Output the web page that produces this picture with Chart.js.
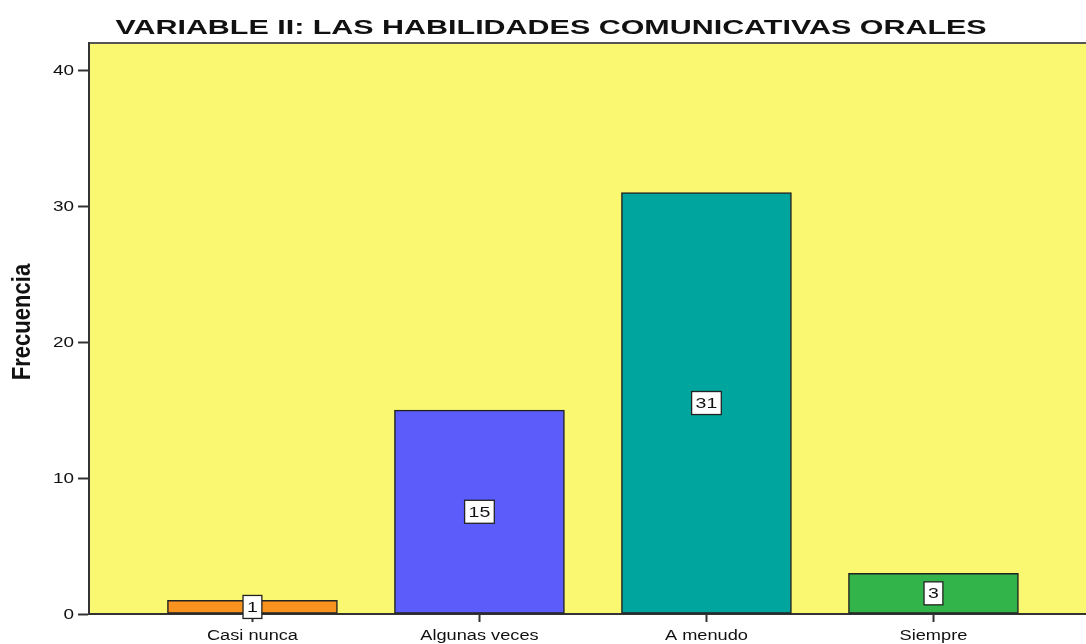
<!DOCTYPE html>
<html lang="en">
<head>
<meta charset="UTF-8">
<title>Variable II: Las habilidades comunicativas orales</title>
<style>
  body {
    margin: 0;
    background: #fff;
  }
  .wrap {
    width: 1086px;
    height: 644px;
    position: relative;
  }
</style>
<script src="https://cdn.jsdelivr.net/npm/chart.js"></script>
</head>
<body>

<div class="wrap">
  <canvas id="freqChart"></canvas>
</div>

<script>
// data
var categories = ['Casi nunca', 'Algunas veces', 'A menudo', 'Siempre'];
var values = [1, 15, 31, 3];
var yTicks = [0, 10, 20, 30, 40];
var chartTitle = 'VARIABLE II: LAS HABILIDADES COMUNICATIVAS ORALES';
var yTitle = 'Frecuencia';

var barColors = ['#F7931E', '#5C5CFA', '#00A59E', '#33B44A'];
var plotYellow = '#FAF870';
var lineColor = '#333333';
var FONT = '"Liberation Sans", Arial, sans-serif';
// the original picture is stretched sideways, so the text is too
var SX = 1.35;

function stretchedText(ctx, txt, x, y, sx, align) {
  ctx.save();
  ctx.translate(x, y);
  ctx.scale(sx, 1);
  ctx.textAlign = align;
  ctx.fillText(txt, 0, 0);
  ctx.restore();
}

// yellow plot background + top frame line
var plotBackground = {
  id: 'plotBackground',
  beforeDraw: function(chart) {
    var a = chart.chartArea, ctx = chart.ctx;
    ctx.save();
    ctx.fillStyle = plotYellow;
    ctx.fillRect(a.left, a.top, a.right - a.left, a.bottom - a.top);
    ctx.strokeStyle = '#555';
    ctx.lineWidth = 2;
    ctx.beginPath();
    ctx.moveTo(a.left, a.top);
    ctx.lineTo(a.right, a.top);
    ctx.stroke();
    ctx.restore();
  }
};

// title, axis labels and axis title, drawn wide like the original
var wideText = {
  id: 'wideText',
  afterDraw: function(chart) {
    var ctx = chart.ctx, a = chart.chartArea;
    var xs = chart.scales.x, ys = chart.scales.y;
    ctx.save();
    ctx.fillStyle = '#111';
    ctx.textBaseline = 'alphabetic';

    ctx.font = 'bold 21px ' + FONT;
    stretchedText(ctx, chartTitle, 551, 34, 1.45, 'center');

    ctx.font = '14px ' + FONT;
    categories.forEach(function(c, i) {
      stretchedText(ctx, c, xs.getPixelForValue(i + 1), a.bottom + 26, 1.3, 'center');
    });

    ctx.textBaseline = 'middle';
    yTicks.forEach(function(t) {
      stretchedText(ctx, String(t), a.left - 15, ys.getPixelForValue(t) + 1, SX, 'right');
    });

    ctx.save();
    ctx.translate(23, 322);
    ctx.rotate(-Math.PI / 2);
    ctx.scale(1.05, 1.2);
    ctx.font = 'bold 21px ' + FONT;
    ctx.textAlign = 'center';
    ctx.fillText(yTitle, 0, 0);
    ctx.restore();

    ctx.restore();
  }
};

// white boxed value labels in the middle of each bar
var boxLabels = {
  id: 'boxLabels',
  afterDatasetsDraw: function(chart) {
    var ctx = chart.ctx;
    var meta = chart.getDatasetMeta(0);
    ctx.save();
    ctx.font = '15px ' + FONT;
    ctx.textBaseline = 'middle';
    meta.data.forEach(function(bar, i) {
      var txt = String(values[i]);
      var cx = bar.x;
      var cy = (bar.y + bar.base) / 2;
      var w = ctx.measureText(txt).width * 1.3 + 8;
      var h = 23;
      ctx.fillStyle = '#fff';
      ctx.fillRect(cx - w / 2, cy - h / 2, w, h);
      ctx.strokeStyle = '#222';
      ctx.lineWidth = 1.3;
      ctx.strokeRect(cx - w / 2, cy - h / 2, w, h);
      ctx.fillStyle = '#111';
      stretchedText(ctx, txt, cx, cy + 1, 1.3, 'center');
    });
    ctx.restore();
  }
};

var points = values.map(function(v, i) { return { x: i + 1, y: v }; });

var freqChart = new Chart(document.getElementById('freqChart'), {
  type: 'bar',
  data: {
    datasets: [{
      label: yTitle,
      data: points,
      backgroundColor: barColors,
      borderColor: '#222',
      borderWidth: 1.5,
      borderSkipped: false,
      barThickness: 170
    }]
  },
  options: {
    responsive: true,
    maintainAspectRatio: false,
    animation: false,
    layout: { padding: { top: 43, left: 0, right: 0, bottom: 0 } },
    plugins: {
      legend: { display: false },
      tooltip: { enabled: false },
      title: { display: false }
    },
    scales: {
      x: {
        type: 'linear',
        offset: false,
        min: 0.28,
        max: 4.672,
        afterBuildTicks: function(scale) {
          scale.ticks = categories.map(function(c, i) { return { value: i + 1 }; });
        },
        afterFit: function(scale) { scale.height = 30; },
        ticks: { display: false },
        grid: {
          offset: false,
          drawOnChartArea: false,
          tickLength: 8,
          tickColor: lineColor,
          tickWidth: 2
        },
        border: { color: lineColor, width: 2 }
      },
      y: {
        min: 0,
        max: 42,
        afterBuildTicks: function(scale) {
          scale.ticks = yTicks.map(function(t) { return { value: t }; });
        },
        afterFit: function(scale) { scale.width = 89; },
        ticks: { display: false },
        grid: {
          drawOnChartArea: false,
          tickLength: 11,
          tickColor: lineColor,
          tickWidth: 2
        },
        border: { color: lineColor, width: 2 }
      }
    }
  },
  plugins: [plotBackground, boxLabels, wideText]
});
</script>

</body>
</html>
